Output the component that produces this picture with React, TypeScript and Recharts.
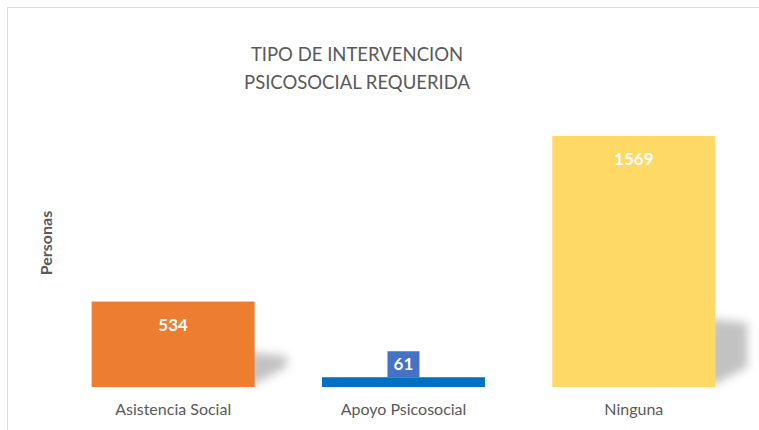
import React from 'react';
import { BarChart, Bar, XAxis, YAxis, Cell, LabelList } from 'recharts';

const categories = ['Asistencia Social', 'Apoyo Psicosocial', 'Ninguna'];
const personas = [534, 61, 1569];
const barColors = ['#ED7D31', '#0070C0', '#FFD966'];

const data = categories.map((name, i) => ({ name, value: personas[i] }));

const FONT = 'Lato, "Open Sans", sans-serif';

// bar with a soft perspective shadow to the right
const ShadowBar = (props: any) => {
  const { x, y, width, height, fill } = props;
  const base = y + height;
  const right = x + width;
  const sh = 18 + height * 0.2;
  const pts = [
    [right - 6, base],
    [right - 6, base - sh],
    [right + 32, base - sh + 4],
    [right + 32, base - 20],
  ]
    .map((p) => p.join(','))
    .join(' ');
  return (
    <g>
      {height > 30 && <polygon points={pts} fill="#9a9a9a" opacity={0.6} filter="url(#barShadow)" />}
      <rect x={x} y={y} width={width} height={height} fill={fill} />
    </g>
  );
};

const ValueLabel = (props: any) => {
  const { x, y, width, height, value } = props;
  const cx = x + width / 2;
  if (height < 30) {
    return (
      <g>
        <rect x={cx - 16} y={y - 26} width={32} height={26} fill="#4472C4" />
        <text x={cx} y={y - 13} dy="0.35em" textAnchor="middle" fill="#fff" fontSize={17} fontWeight={700} fontFamily={FONT}>
          {value}
        </text>
      </g>
    );
  }
  return (
    <text x={cx} y={y + 23} dy="0.35em" textAnchor="middle" fill="#fff" fontSize={17} fontWeight={700} fontFamily={FONT}>
      {value}
    </text>
  );
};

export default function App() {
  return (
    <div style={{ position: 'absolute', left: 0, top: 0, width: 759, height: 430, overflow: 'hidden', background: '#fff' }}>
      <div
        style={{
          position: 'absolute',
          left: 7,
          top: 7,
          width: 800,
          height: 500,
          borderLeft: '1px solid #d9d9d9',
          borderTop: '1px solid #d9d9d9',
        }}
      />
      <div
        style={{
          position: 'absolute',
          left: 157,
          top: 40,
          width: 400,
          textAlign: 'center',
          fontFamily: FONT,
          fontSize: 18.5,
          lineHeight: '28px',
          color: '#595959',
        }}
      >
        TIPO DE INTERVENCION
        <br />
        PSICOSOCIAL REQUERIDA
      </div>
      <div
        style={{
          position: 'absolute',
          left: 45,
          top: 243,
          transform: 'translate(-50%, -50%) rotate(-90deg)',
          fontFamily: FONT,
          fontSize: 16,
          fontWeight: 700,
          color: '#595959',
          whiteSpace: 'nowrap',
        }}
      >
        Personas
      </div>
      <BarChart
        width={759}
        height={430}
        data={data}
        margin={{ top: 99, right: 10, bottom: 13, left: 58 }}
        barCategoryGap="14.6%"
        style={{ position: 'absolute', left: 0, top: 0 }}
      >
        <defs>
          <filter id="barShadow" x="-50%" y="-50%" width="200%" height="200%">
            <feGaussianBlur stdDeviation="5" />
          </filter>
        </defs>
        <XAxis
          dataKey="name"
          axisLine={false}
          tickLine={false}
          height={30}
          tick={{ fill: '#595959', fontSize: 16, fontFamily: FONT }}
          dy={9}
        />
        <YAxis hide domain={[0, 1800]} />
        <Bar dataKey="value" shape={ShadowBar} isAnimationActive={false}>
          {data.map((d, i) => (
            <Cell key={d.name} fill={barColors[i]} />
          ))}
          <LabelList dataKey="value" content={ValueLabel} />
        </Bar>
      </BarChart>
    </div>
  );
}
